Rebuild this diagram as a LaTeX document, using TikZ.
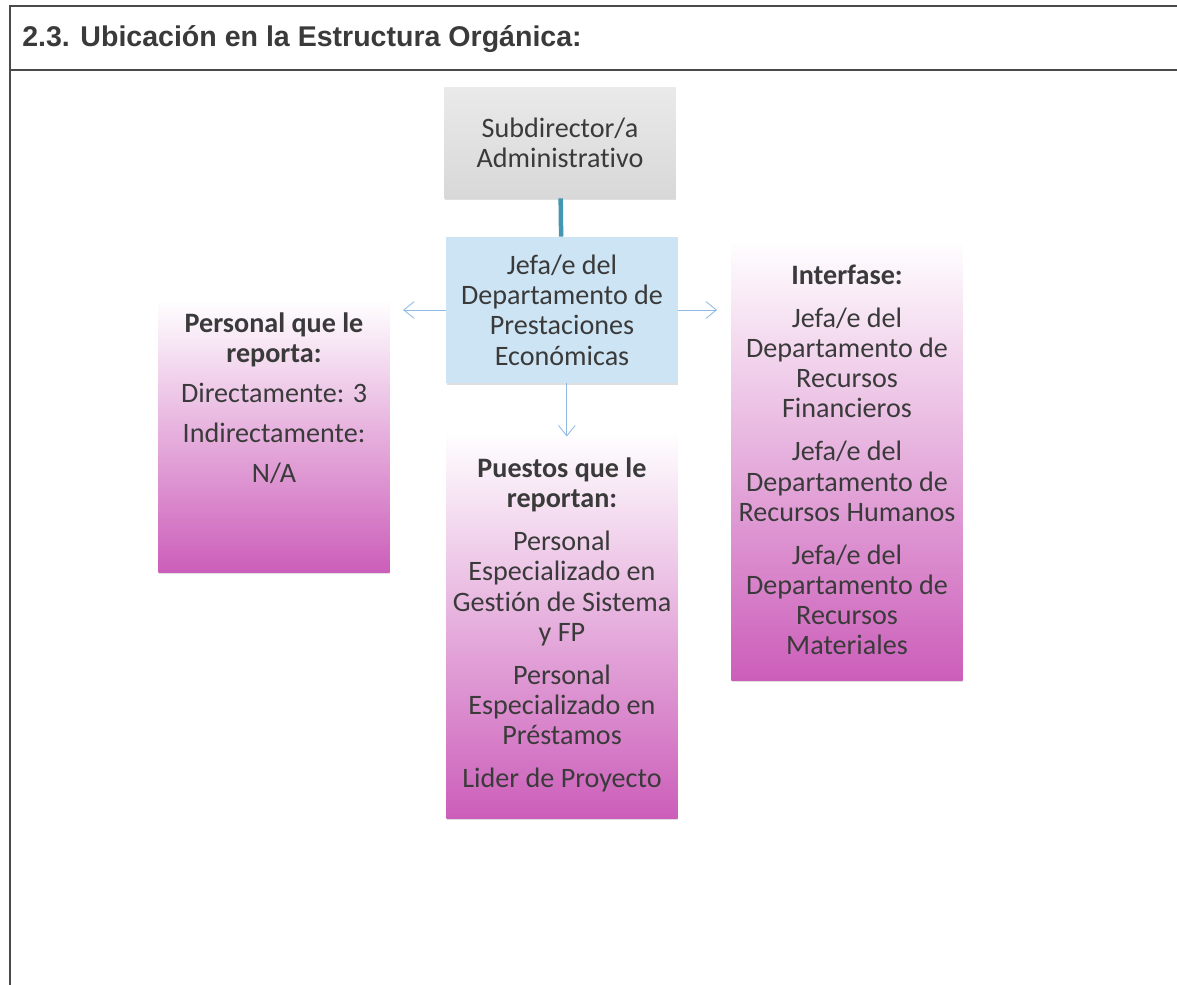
\documentclass[tikz,border=0pt]{standalone}
\usepackage{fontspec}
\setmainfont{Carlito}[Ligatures=NoCommon]
\newfontfamily\headfont{Liberation Sans}
\usetikzlibrary{arrows.meta,positioning,shadows}

\definecolor{framegray}{HTML}{4A4A4A}
\definecolor{inkgray}{HTML}{3A3A3A}
\definecolor{subgray}{HTML}{D8D8D8}
\definecolor{jefeblue}{HTML}{CDE4F4}
\definecolor{orchidlow}{RGB}{204,94,186}
\definecolor{orchidmid}{RGB}{238,190,231}
\definecolor{linkteal}{HTML}{4596B0}
\definecolor{linkblue}{HTML}{8FB9E2}

\begin{document}
\begin{tikzpicture}[x=.025cm,y=-.025cm,
  frame/.style={draw=framegray,line width=1.5pt},
  heading/.style={anchor=west,text=inkgray,inner sep=0pt,
    font=\headfont\bfseries\fontsize{20.3}{22}\selectfont},
  box/.style={align=center,minimum width=5.78cm,inner sep=2pt,text=inkgray,
    font=\fontsize{20}{21.5}\selectfont,
    drop shadow={shadow xshift=.6pt,shadow yshift=-1.4pt,opacity=.25}},
  chief/.style={box,top color=subgray!55!white,bottom color=subgray},
  unit/.style={box,fill=jefeblue},
  pinkbox/.style={box,top color=white,middle color=orchidmid,bottom color=orchidlow},
  boxtext/.style={align=center,inner sep=2pt,text=inkgray,
    font=\fontsize{20}{21.5}\selectfont},
  tie/.style={draw=linkteal,line width=3.2pt},
  link/.style={draw=linkblue,line width=.6pt,-{Straight Barb[length=2.6mm,width=4.2mm]}}
]
% page frame taken from the form around the chart
\useasboundingbox (0,0) rectangle (1177,985);
\draw[frame] (10,985) -- (10,6) -- (1177,6);
\draw[frame] (10,70) -- (1177,70);
\node[heading] (title) at (22,39) {2.3. Ubicación en la Estructura Orgánica:};

\node[chief,minimum height=2.75cm] (subdir) at (560,143)
  {Subdirector/a\\Administrativo};
\node[unit,minimum height=3.65cm] (jefe) at (562,310)
  {Jefa/e del\\Departamento de\\Prestaciones\\Económicas};
\node[pinkbox,minimum height=6.8cm] (staff) at (274,436) {};
\node[boxtext,anchor=north] (staff-text) at ([yshift=-.24cm]staff.north)
  {\textbf{Personal que le}\\\textbf{reporta:}\\[7pt]
   Directamente: 3\\[7pt]Indirectamente:\\[7pt]N/A};
\node[pinkbox,minimum height=11cm] (iface) at (847,460)
  {\textbf{Interfase:}\\[9pt]
   Jefa/e del\\Departamento de\\Recursos\\Financieros\\[9pt]
   Jefa/e del\\Departamento de\\Recursos Humanos\\[9pt]
   Jefa/e del\\Departamento de\\Recursos\\Materiales};
\node[pinkbox,minimum height=9.65cm] (posts) at (562,625)
  {\textbf{Puestos que le}\\\textbf{reportan:}\\[9pt]
   Personal\\Especializado en\\Gestión de Sistema\\y FP\\[9pt]
   Personal\\Especializado en\\Préstamos\\[9pt]
   Lider de Proyecto};

\draw[tie] (subdir) -- (jefe);
\draw[link,shorten >=.33cm] (jefe.west) -- (jefe.west -| staff.east);
\draw[link,shorten >=.35cm] (jefe.east) -- (jefe.east -| iface.west);
\draw[link,shorten >=-.12cm] ([xshift=.12cm]jefe.south) -- ([xshift=.12cm]jefe.south |- posts.north);
\end{tikzpicture}
\end{document}
